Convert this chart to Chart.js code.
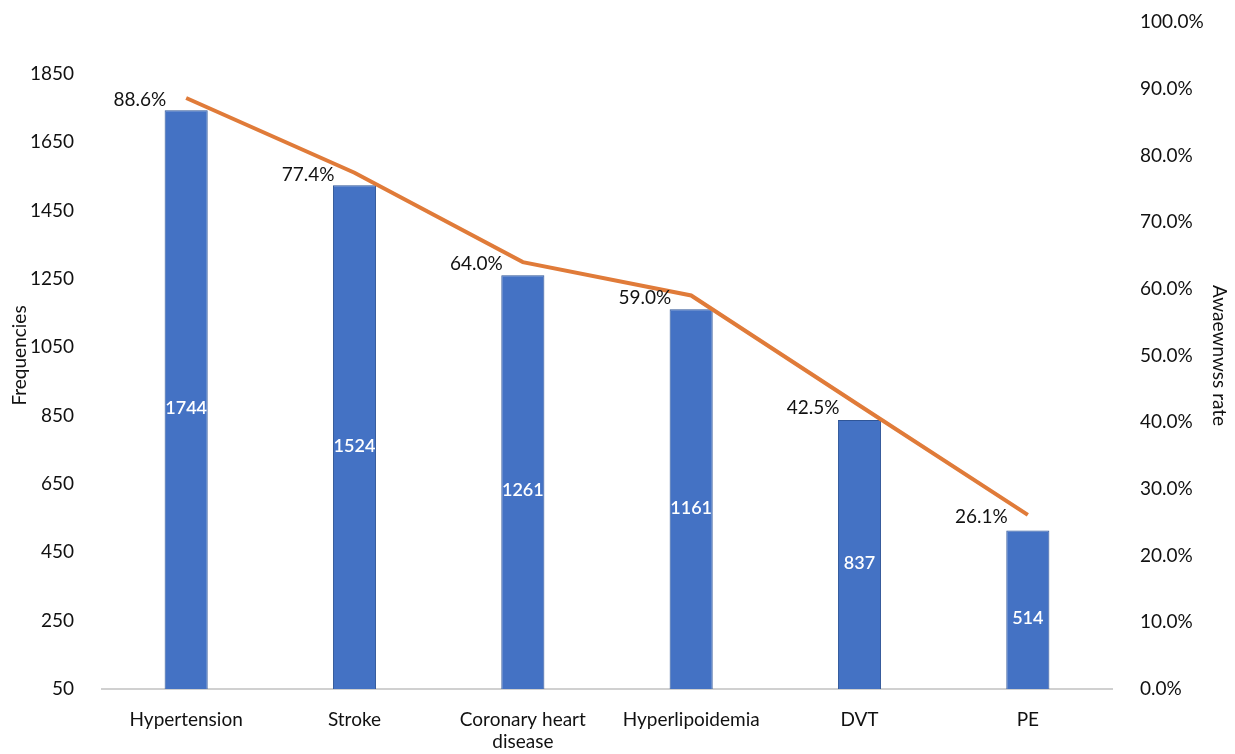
<!DOCTYPE html>
<html lang="en">
<head>
    <meta charset="UTF-8" />
    <title>Frequencies and awareness rate</title>
    <script src="https://cdn.jsdelivr.net/npm/chart.js"></script>
    <style>
        html, body {
            margin: 0;
            padding: 0;
            background: #ffffff;
        }
        .chart-box {
            width: 1235px;
            height: 754px;
        }
    </style>
</head>
<body>
    <div class="chart-box">
        <canvas id="chart"></canvas>
    </div>

    <script>
        // data
        const categories = ['Hypertension', 'Stroke', ['Coronary heart', 'disease'], 'Hyperlipoidemia', 'DVT', 'PE'];
        const frequencies = [1744, 1524, 1261, 1161, 837, 514];
        const awarenessRate = [0.886, 0.774, 0.640, 0.590, 0.425, 0.261];
        const leftTicks = [50, 250, 450, 650, 850, 1050, 1250, 1450, 1650, 1850];

        const FONT = 'Lato, "Open Sans", sans-serif';

        // small inline plugin for the data labels (no datalabels plugin available offline)
        const labelPlugin = {
            id: 'valueLabels',
            afterDatasetsDraw(chart) {
                const ctx = chart.ctx;
                ctx.save();

                // counts inside the bars, white, middle of the bar
                const bars = chart.getDatasetMeta(1).data;
                ctx.font = '600 18px ' + FONT;
                ctx.fillStyle = '#ffffff';
                ctx.textAlign = 'center';
                ctx.textBaseline = 'middle';
                bars.forEach((bar, i) => {
                    const midY = (bar.y + bar.base) / 2;
                    ctx.fillText(frequencies[i], bar.x, midY);
                });

                // percentages to the left of the line points
                const pts = chart.getDatasetMeta(0).data;
                ctx.font = '19px ' + FONT;
                ctx.fillStyle = '#111111';
                ctx.textAlign = 'right';
                pts.forEach((pt, i) => {
                    ctx.fillText((awarenessRate[i] * 100).toFixed(1) + '%', pt.x - 20, pt.y + 2);
                });

                ctx.restore();
            }
        };

        // the tick padding would otherwise push the plot area down
        function trimPadding(scale) {
            scale.paddingTop = 11;
            scale.paddingBottom = 11;
        }

        new Chart(document.getElementById('chart'), {
            data: {
                labels: categories,
                datasets: [
                    {
                        type: 'line',
                        label: 'Awareness rate',
                        data: awarenessRate,
                        yAxisID: 'yRate',
                        borderColor: '#e07b39',
                        borderWidth: 4,
                        pointRadius: 0,
                        tension: 0,
                        order: 0
                    },
                    {
                        type: 'bar',
                        label: 'Frequencies',
                        data: frequencies,
                        yAxisID: 'yFreq',
                        backgroundColor: '#4472c4',
                        borderColor: '#2f5597',
                        borderWidth: 1,
                        barPercentage: 0.32,
                        categoryPercentage: 0.8,
                        order: 1
                    }
                ]
            },
            options: {
                responsive: true,
                maintainAspectRatio: false,
                animation: false,
                layout: {
                    padding: { top: 22, left: 0, right: 0, bottom: 0 }
                },
                plugins: {
                    legend: { display: false },
                    tooltip: { enabled: false }
                },
                scales: {
                    x: {
                        grid: { display: false },
                        border: { display: true, color: '#d0d0d0', width: 2 },
                        ticks: {
                            color: '#111111',
                            font: { family: FONT, size: 19 },
                            padding: 11,
                            maxRotation: 0,
                            autoSkip: false
                        },
                        afterFit(scale) {
                            scale.height = 65;
                        }
                    },
                    yFreq: {
                        position: 'left',
                        min: 50,
                        max: 2002,
                        grid: { display: false },
                        border: { display: false },
                        afterBuildTicks(scale) {
                            scale.ticks = leftTicks.map(v => ({ value: v }));
                        },
                        ticks: {
                            color: '#111111',
                            font: { family: FONT, size: 19 },
                            padding: 20,
                            callback: v => String(v)
                        },
                        title: {
                            display: true,
                            text: 'Frequencies',
                            color: '#111111',
                            font: { family: FONT, size: 19 },
                            padding: 8
                        },
                        afterFit(scale) {
                            scale.width = 102;
                            trimPadding(scale);
                        }
                    },
                    yRate: {
                        position: 'right',
                        min: 0,
                        max: 1,
                        grid: { display: false },
                        border: { display: false },
                        ticks: {
                            stepSize: 0.1,
                            color: '#111111',
                            font: { family: FONT, size: 19 },
                            padding: 20,
                            callback: v => (v * 100).toFixed(1) + '%'
                        },
                        title: {
                            display: true,
                            text: 'Awaewnwss rate',
                            color: '#111111',
                            font: { family: FONT, size: 19 },
                            padding: 4
                        },
                        afterFit(scale) {
                            scale.width = 123;
                            trimPadding(scale);
                        }
                    }
                }
            },
            plugins: [labelPlugin]
        });
    </script>
</body>
</html>
